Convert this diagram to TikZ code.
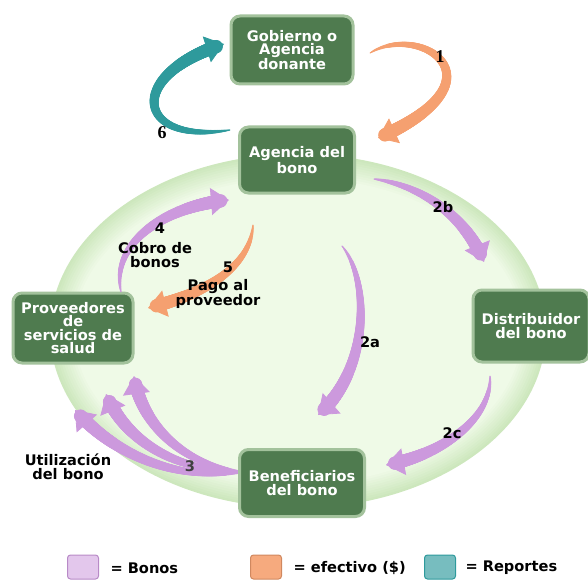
\documentclass[tikz,border=0pt]{standalone}
\usepackage{fontspec}
\setmainfont{DejaVu Sans}
\newfontfamily\numfont{Liberation Serif}
\usetikzlibrary{arrows.meta,decorations.markings}

\definecolor{boxgreen}{HTML}{4F7B4F}
\definecolor{boxglow}{HTML}{A3C29C}
\definecolor{rimgreen}{HTML}{CDE7BD}
\definecolor{innergreen}{HTML}{EFFAE7}
\definecolor{bono}{HTML}{CC99DD}
\definecolor{cash}{HTML}{F5A070}
\definecolor{report}{HTML}{2E9A9C}

\tikzset{
  flow/.style={#1, line width=0.8pt, -{Triangle[length=18pt,width=27pt]},
    postaction={decorate, decoration={markings,
      mark=between positions 0 and -9pt step 0.6pt with {%
        \pgfmathsetmacro\rad{0.4+6.4*(\pgfkeysvalueof{/pgf/decoration/mark info/distance from start}/\pgfdecoratedpathlength)^0.6}%
        \fill[#1] (0,0) circle (\rad pt);}}}}
}

\begin{document}
\begin{tikzpicture}[x=1pt,y=-1pt,
    box/.style={fill=boxgreen, draw=boxglow, line width=3pt, rounded corners=9pt,
      text=white, align=center, inner sep=0pt,
      font=\bfseries\fontsize{14.6}{13.6}\selectfont},
    lbl/.style={font=\bfseries\fontsize{14.6}{13.6}\selectfont, align=center},
    num/.style={font=\numfont\bfseries\fontsize{18}{18}\selectfont},
    key/.style={minimum width=31pt, minimum height=24pt, rounded corners=3pt, line width=1pt}]
    \useasboundingbox (0,0) rectangle (588,580);

    % Background ellipse, soft rim
    \foreach \i in {0,...,10} {
      \pgfmathsetmacro\p{\i*10}
      \fill[innergreen!\p!rimgreen] (298,331) ellipse [x radius={248-2.4*\i}, y radius={177-2.4*\i}];
    }

    % Boxes
    \node[box, minimum width=122pt, minimum height=68pt] (gob) at (292,50) {Gobierno o\\Agencia\\donante};
    \node[box, minimum width=115pt, minimum height=66pt] (age) at (297,160) {Agencia del\\bono};
    \node[box, minimum width=120pt, minimum height=70pt] (prov) at (73,328) {Proveedores\\de\\servicios de\\salud};
    \node[box, minimum width=116pt, minimum height=72pt] (dist) at (531,326) {Distribuidor\\del bono};

    % Arrow end points
    \coordinate (t1) at (370,53);  \coordinate (h1) at (378,138);
    \coordinate (t6) at (230,130); \coordinate (h6) at (224,44);
    \coordinate (t2b) at (374,179); \coordinate (h2b) at (484,262);
    \coordinate (t2a) at (342,246); \coordinate (h2a) at (318,415);
    \coordinate (t2c) at (490,376); \coordinate (h2c) at (386,465);
    \coordinate (t4) at (121,292); \coordinate (h4) at (229,200);
    \coordinate (t5) at (253,225); \coordinate (h5) at (148,308);
    \coordinate (t3) at (244,472);

    % Cash and reports
    \draw[flow=cash] (t1) .. controls (420,22) and (510,80) .. (h1);
    \draw[flow=report] (t6) .. controls (135,145) and (125,75) .. (h6);

    % Vouchers
    \draw[flow=bono] (t2b) .. controls (420,185) and (465,215) .. (h2b);
    \draw[flow=bono] (t2a) .. controls (370,280) and (370,370) .. (h2a);
    \draw[flow=bono] (t2c) .. controls (492,420) and (440,455) .. (h2c);
    \draw[flow=bono] (t4) .. controls (110,240) and (170,205) .. (h4);
    \draw[flow=cash] (t5) .. controls (250,270) and (200,295) .. (h5);
    \draw[flow=bono] (t3) .. controls (170,482) and (110,450) .. (75,410);
    \draw[flow=bono] (t3) .. controls (175,472) and (125,440) .. (106,394);
    \draw[flow=bono] (t3) .. controls (180,466) and (140,420) .. (134,376);

    \node[box, minimum width=125pt, minimum height=67pt] (ben) at (302,483) {Beneficiarios\\del bono};

    % Labels
    \node[num] (n1) at (440,57) {1};
    \node[num] (n6) at (162,133) {6};
    \node[lbl] (n2b) at (443,207) {2b};
    \node[lbl] (n2a) at (370,342) {2a};
    \node[lbl] (n2c) at (452,433) {2c};
    \node[lbl] (n4) at (160,228) {4};
    \node[lbl] (cobro) at (155,255) {Cobro de\\bonos};
    \node[lbl] (n5) at (228,267) {5};
    \node[lbl] (pago) at (218,294) {Pago al\\proveedor};
    \node[lbl, text=black!75] (n3) at (190,466) {3};
    \node[lbl] (util) at (68,467) {Utilización\\del bono};

    % Legend
    \node[key, fill=bono!55, draw=bono!90!black] (kb) at (83,567) {};
    \node[lbl, anchor=west] (kbt) at (107,568) {= Bonos};
    \node[key, fill=cash!90, draw=cash!85!black] (kc) at (266,567) {};
    \node[lbl, anchor=west] (kct) at (290,568) {= efectivo (\$)};
    \node[key, fill=report!65!white, draw=report] (kr) at (440,567) {};
    \node[lbl, anchor=west] (krt) at (462,568) {= Reportes};
\end{tikzpicture}
\end{document}
